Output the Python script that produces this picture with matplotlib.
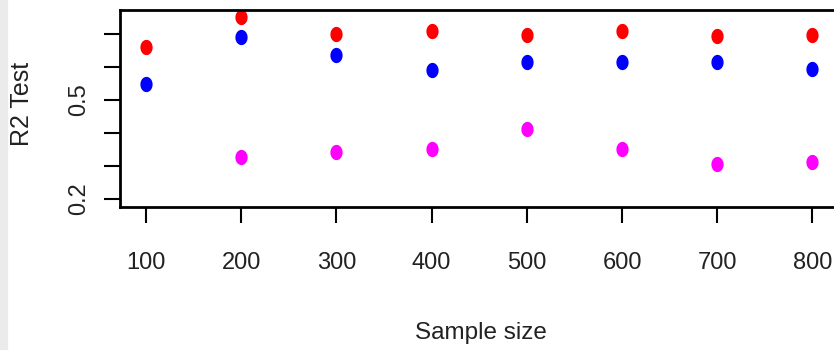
import numpy as np
import matplotlib
matplotlib.use('Agg')
import matplotlib.pyplot as plt
from matplotlib.path import Path
from matplotlib.patches import Rectangle

sample_size = [100, 200, 300, 400, 500, 600, 700, 800]
r2_red = [0.661, 0.752, 0.700, 0.709, 0.697, 0.709, 0.694, 0.697]
r2_blue = [0.548, 0.691, 0.636, 0.591, 0.615, 0.616, 0.615, 0.594]
magenta_size = [200, 300, 400, 500, 600, 700, 800]
r2_magenta = [0.327, 0.342, 0.352, 0.412, 0.351, 0.306, 0.312]

y_ticks = [0.2, 0.3, 0.4, 0.5, 0.6, 0.7]
y_ticklabels = ['0.2', '', '', '0.5', '', '']

# slightly tall ellipse, like the R pch=19 dots in the picture
t = np.linspace(0, 2 * np.pi, 40)
ellipse = Path(np.column_stack([0.8 * np.cos(t), np.sin(t)]), closed=True)

W, H = 834, 350
fig = plt.figure(figsize=(W / 100, H / 100), dpi=100)
fig.patches.append(Rectangle((0, 0), 7 / W, 1, transform=fig.transFigure,
                             color='#ebebeb', zorder=-1))

left, right, top, bottom = 120, 900, 10, 207
ax = fig.add_axes([left / W, 1 - bottom / H, (right - left) / W, (bottom - top) / H])

ms = 11
ax.plot(sample_size, r2_red, ls='none', marker=ellipse, ms=ms, color='red', mew=0)
ax.plot(sample_size, r2_blue, ls='none', marker=ellipse, ms=ms, color='blue', mew=0)
ax.plot(magenta_size, r2_magenta, ls='none', marker=ellipse, ms=ms, color='magenta', mew=0)

ax.set_xlim(72.7, 892)
ax.set_ylim(0.176, 0.773)
ax.set_xticks(sample_size)
ax.set_xticklabels([str(s) for s in sample_size], family='Liberation Sans',
                   fontsize=17, color='#222222')
ax.set_yticks(y_ticks)
ax.set_yticklabels(y_ticklabels, family='Liberation Sans', fontsize=17,
                   rotation=90, va='center', color='#222222')

for sp in ax.spines.values():
    sp.set_linewidth(2)
ax.tick_params(length=11.5, width=1.5, direction='out')
ax.tick_params(axis='x', pad=21)
ax.tick_params(axis='y', pad=10)

fig.text(481 / W, 1 - 339 / H, 'Sample size', ha='center', va='baseline',
         family='Liberation Sans', fontsize=17.5, color='#222222')
fig.text(22 / W, 1 - 104 / H, 'R2 Test', ha='center', va='center', rotation=90,
         family='Liberation Sans', fontsize=18, color='#222222')

fig.savefig('out.png', dpi=100)
